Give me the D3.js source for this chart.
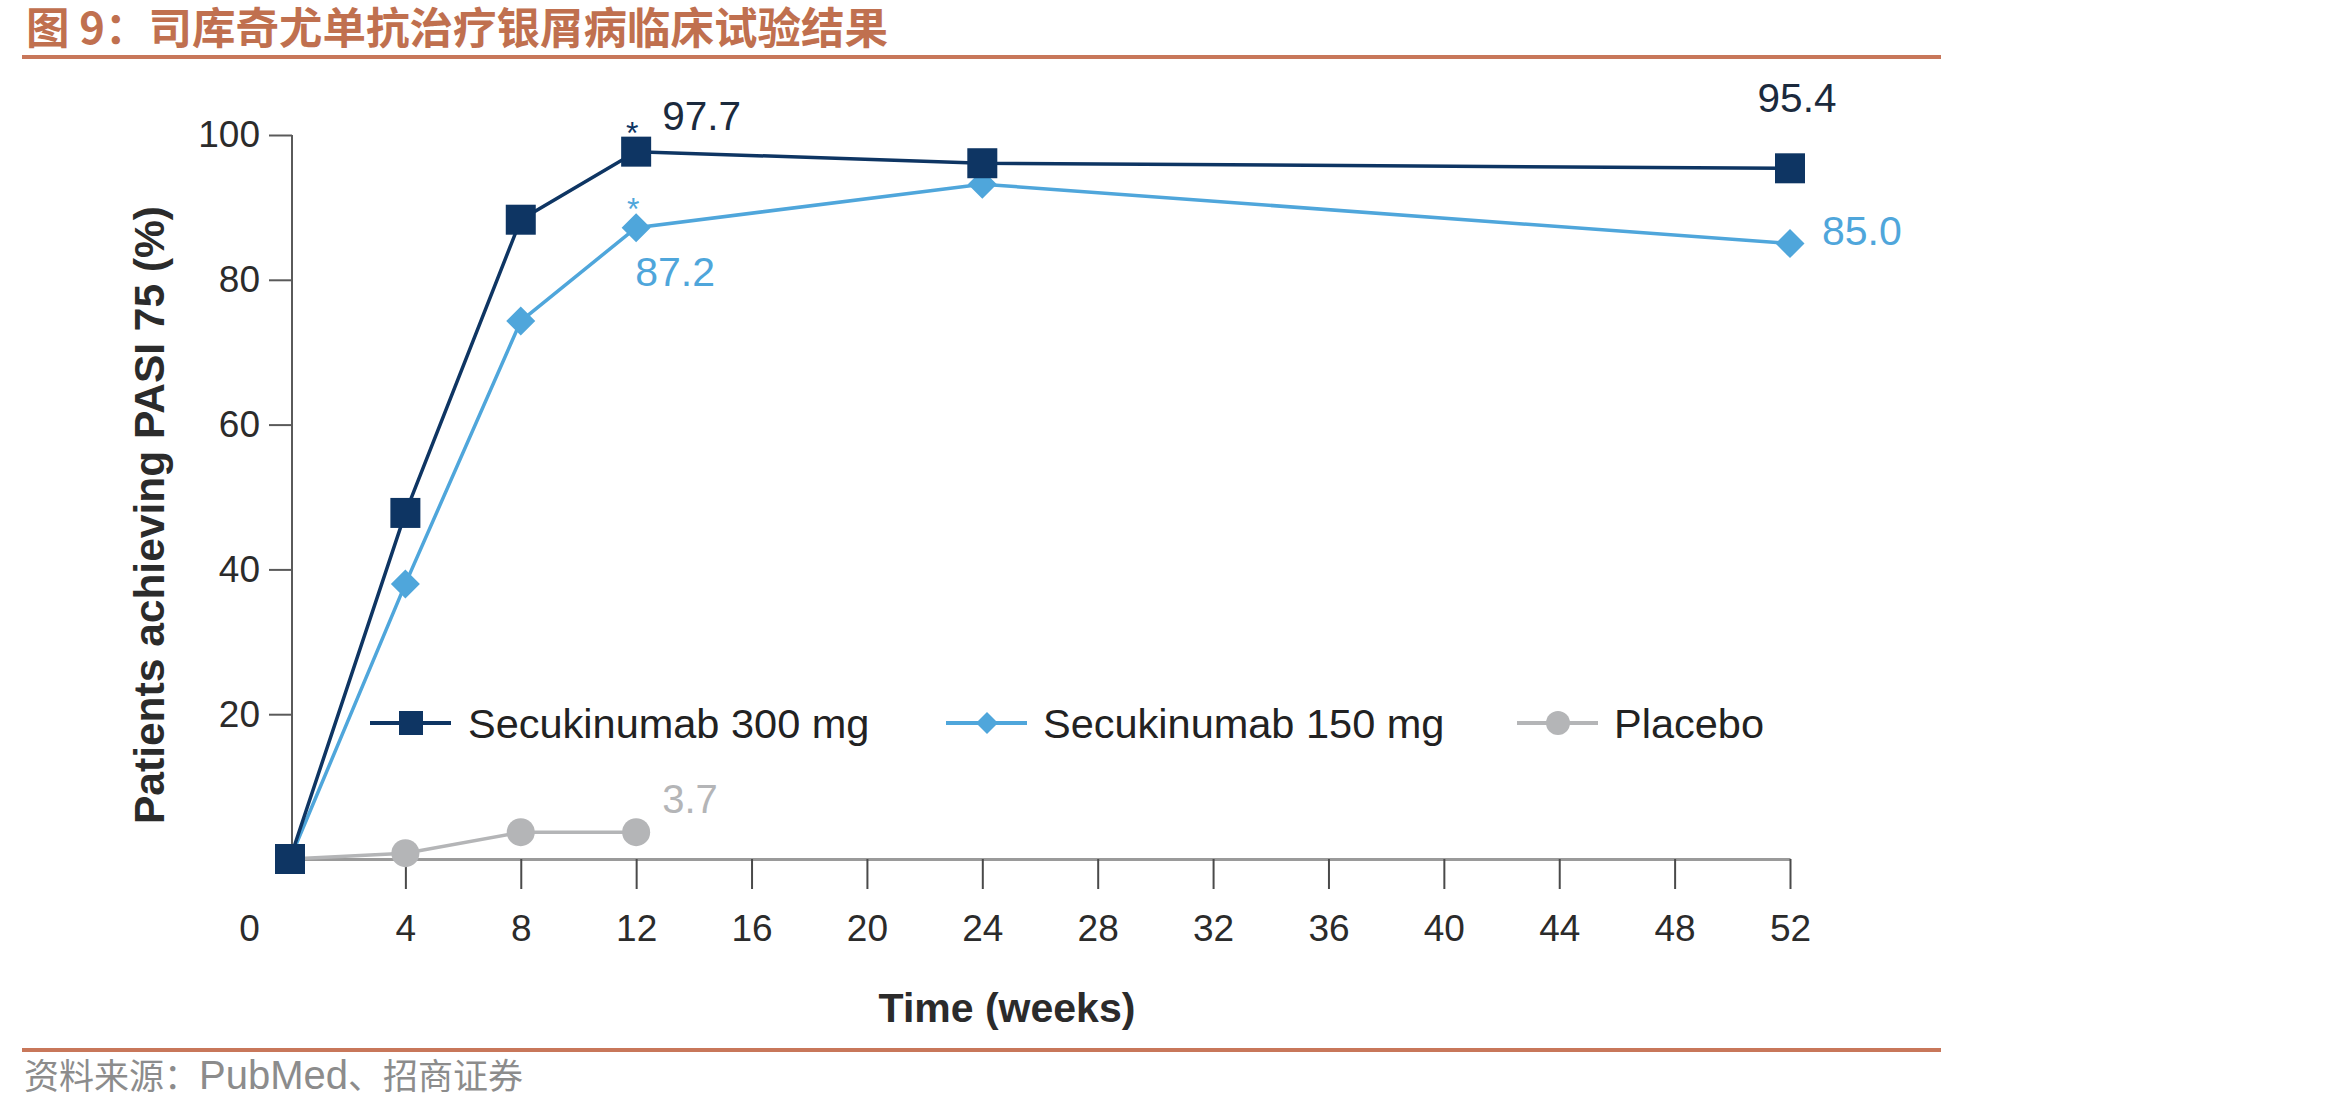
<!DOCTYPE html>
<html>
<head>
<meta charset="utf-8">
<script src="https://cdn.jsdelivr.net/npm/d3@7"></script>
<style>
  html, body { margin: 0; padding: 0; background: #fff; }
  svg { display: block; }
</style>
</head>
<body>
<svg id="chart" width="2350" height="1109"></svg>
<script>
// ---- data ----
const titleText = "图 9：司库奇尤单抗治疗银屑病临床试验结果";
const sourceCJK1 = "资料来源：";
const sourceLatin = "PubMed";
const sourceCJK2 = "、招商证券";
const xTicks = [0, 4, 8, 12, 16, 20, 24, 28, 32, 36, 40, 44, 48, 52];
const yTicks = [20, 40, 60, 80, 100];
const seriesNames = ["Secukinumab 300 mg", "Secukinumab 150 mg", "Placebo"];
const weeks300 = [0, 4, 8, 12, 24, 52];
const values300 = [0, 47.8, 88.3, 97.7, 96.1, 95.4];
const weeks150 = [0, 4, 8, 12, 24, 52];
const values150 = [0, 38.0, 74.3, 87.2, 93.2, 85.0];
const weeksPlacebo = [0, 4, 8, 12];
const valuesPlacebo = [0, 0.8, 3.7, 3.7];
const xLabel = "Time (weeks)";
const yLabel = "Patients achieving PASI 75 (%)";

// ---- styles ----
const C300 = "#0e3563", C150 = "#4fa6db", CPL = "#b4b5b7";
const ACCENT = "#c8775a";
const FONT = "'Liberation Sans', Arial, sans-serif";
const CJK = "'Noto Sans CJK SC', sans-serif";

const svg = d3.select("#chart");

// title
svg.append("text").attr("x", 26).attr("y", 44)
  .attr("font-family", CJK).attr("font-weight", 700)
  .attr("font-size", 43.5).attr("fill", "#c0704f").text(titleText);
svg.append("line").attr("x1", 22).attr("x2", 1941).attr("y1", 57).attr("y2", 57)
  .attr("stroke", ACCENT).attr("stroke-width", 4);

// bottom rule and source
svg.append("line").attr("x1", 22).attr("x2", 1941).attr("y1", 1050).attr("y2", 1050)
  .attr("stroke", ACCENT).attr("stroke-width", 4);
const src = svg.append("text").attr("x", 24).attr("y", 1089)
  .attr("font-family", CJK).attr("font-size", 35).attr("fill", "#8c8c8c");
src.append("tspan").text(sourceCJK1);
src.append("tspan").attr("font-family", FONT).attr("font-size", 40).text(sourceLatin);
src.append("tspan").text(sourceCJK2);

// scales
const x = d3.scaleLinear().domain([0, 52]).range([290, 1790]);
const y = d3.scaleLinear().domain([0, 100]).range([859, 135]);

// y axis
const yAxis = svg.append("g").attr("transform", `translate(${x(0) + 2},0)`)
  .call(d3.axisLeft(y).tickValues(yTicks).tickSize(23).tickPadding(9).tickSizeOuter(0));
yAxis.select(".domain").attr("stroke", "#5a5a5a").attr("stroke-width", 2)
  .attr("d", `M0,${y(100)}V${y(0)}`);
yAxis.selectAll(".tick line").attr("stroke", "#5a5a5a").attr("stroke-width", 2);
yAxis.selectAll(".tick text").attr("font-family", FONT).attr("font-size", 37).attr("fill", "#2b2b2b");

// x axis
const xAxis = svg.append("g").attr("transform", `translate(0,${y(0)})`)
  .call(d3.axisBottom(x).tickValues(xTicks).tickSize(30).tickPadding(26).tickSizeOuter(0));
xAxis.select(".domain").attr("stroke", "#9a9a9a").attr("stroke-width", 3);
xAxis.selectAll(".tick line").attr("stroke", "#4a4a4a").attr("stroke-width", 2);
xAxis.selectAll(".tick").filter(d => d === 0).select("line").remove();
xAxis.selectAll(".tick text").attr("font-family", FONT).attr("font-size", 37).attr("fill", "#2b2b2b");
xAxis.selectAll(".tick").filter(d => d === 0).select("text").attr("dx", -41);

// axis titles
svg.append("text").attr("x", 1007).attr("y", 1022).attr("text-anchor", "middle")
  .attr("font-family", FONT).attr("font-weight", 700).attr("font-size", 41)
  .attr("fill", "#2b2b2b").text(xLabel);
svg.append("text").attr("transform", "translate(164,515) rotate(-90)").attr("text-anchor", "middle")
  .attr("font-family", FONT).attr("font-weight", 700).attr("font-size", 42.5)
  .attr("fill", "#2b2b2b").text(yLabel);

// helpers
const line = d3.line().x(d => x(d[0])).y(d => y(d[1]));
const zip = (a, b) => a.map((v, i) => [v, b[i]]);
const diamond = (h) => `M0,${-h}L${h},0L0,${h}L${-h},0Z`;

// placebo
const pl = zip(weeksPlacebo, valuesPlacebo);
svg.append("path").datum(pl).attr("d", line).attr("fill", "none")
  .attr("stroke", CPL).attr("stroke-width", 3.5);
svg.selectAll(".pl").data(pl).enter().append("circle")
  .attr("cx", d => x(d[0])).attr("cy", d => y(d[1])).attr("r", 14).attr("fill", CPL);

// 150 mg
const s150 = zip(weeks150, values150);
svg.append("path").datum(s150).attr("d", line).attr("fill", "none")
  .attr("stroke", C150).attr("stroke-width", 3.5);
svg.selectAll(".d150").data(s150).enter().append("path")
  .attr("transform", d => `translate(${x(d[0])},${y(d[1])})`)
  .attr("d", diamond(14.5)).attr("fill", C150);

// 300 mg
const s300 = zip(weeks300, values300);
svg.append("path").datum(s300).attr("d", line).attr("fill", "none")
  .attr("stroke", C300).attr("stroke-width", 3.5);
svg.selectAll(".s300").data(s300).enter().append("rect")
  .attr("x", d => x(d[0]) - 15).attr("y", d => y(d[1]) - 15)
  .attr("width", 30).attr("height", 30).attr("fill", C300);

// annotations
const lab = (tx, ty, t, col, size, anchor) => svg.append("text").attr("x", tx).attr("y", ty)
  .attr("font-family", FONT).attr("font-size", size).attr("fill", col)
  .attr("text-anchor", anchor || "start").text(t);
lab(x(12) - 4, y(97.7) - 8, "*", C300, 32, "middle");
lab(x(12) + 26, y(97.7) - 22, values300[3].toFixed(1), "#1b2a3d", 40.5);
lab(x(12) - 3, y(87.2) - 8, "*", C150, 32, "middle");
lab(x(12) - 1, y(87.2) + 58, values150[3].toFixed(1), C150, 41);
lab(x(52) + 7, y(95.4) - 56, values300[5].toFixed(1), "#1b2a3d", 40.5, "middle");
lab(x(52) + 32, y(85.0) + 1, values150[5].toFixed(1), C150, 41);
lab(x(12) + 26, y(3.7) - 19, valuesPlacebo[3].toFixed(1), CPL, 40);

// legend
const legendItems = [
  { name: seriesNames[0], color: C300, shape: "square", lx: 370, tx: 468 },
  { name: seriesNames[1], color: C150, shape: "diamond", lx: 946, tx: 1043 },
  { name: seriesNames[2], color: CPL, shape: "circle", lx: 1517, tx: 1614 }
];
const ly = 723;
legendItems.forEach(it => {
  const g = svg.append("g");
  g.append("line").attr("x1", it.lx).attr("x2", it.lx + 81).attr("y1", ly).attr("y2", ly)
    .attr("stroke", it.color).attr("stroke-width", 4);
  const cx = it.lx + 41;
  if (it.shape === "square") {
    g.append("rect").attr("x", cx - 12).attr("y", ly - 12).attr("width", 24).attr("height", 24).attr("fill", it.color);
  } else if (it.shape === "diamond") {
    g.append("path").attr("transform", `translate(${cx},${ly})`).attr("d", diamond(11)).attr("fill", it.color);
  } else {
    g.append("circle").attr("cx", cx).attr("cy", ly).attr("r", 12).attr("fill", it.color);
  }
  g.append("text").attr("x", it.tx).attr("y", ly + 15).attr("font-family", FONT)
    .attr("font-size", 41.5).attr("fill", "#222").text(it.name);
});
</script>
</body>
</html>
